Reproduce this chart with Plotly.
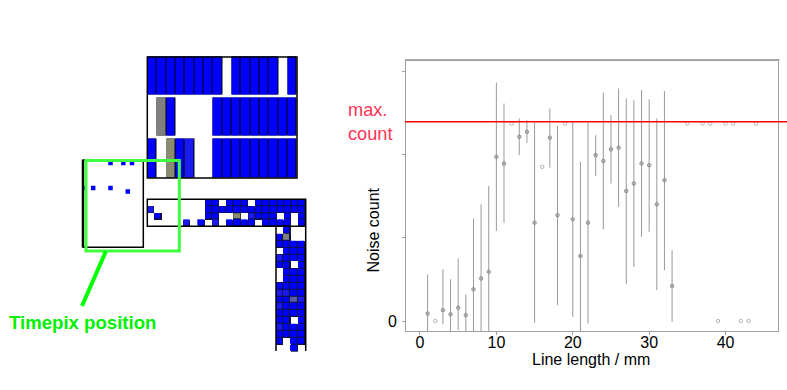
import plotly.graph_objects as go

# right plot: noise count against line length, y in counts
length_err = [1, 3, 4, 5, 6, 7, 8, 9, 10, 11, 13, 14, 15, 17, 18, 20, 21, 22, 23, 24, 25, 26, 27, 28, 29, 30, 31, 32, 33]
noise_err = [9, 13, 8, 16, 7, 38, 51, 59, 197, 189, 221, 227, 118, 220, 127, 122, 78, 118, 199, 192, 206, 208, 156, 165, 189, 187, 140, 169, 42]
err_up = [47, 49, 42, 59, 25, 85, 89, 103, 89, 72, 22, 14, 120, 35, 107, 117, 113, 120, 24, 82, 41, 71, 111, 100, 88, 79, 103, 107, 43]
err_down = [21, 17, 21, 27, 19, 50, 63, 71, 89, 71, 22, 13, 120, 36, 108, 117, 90, 121, 25, 82, 41, 71, 112, 100, 88, 80, 103, 108, 43]

length_flat = [2, 12, 16, 19, 35, 37, 38, 39, 40, 41, 42, 43, 44]
noise_flat = [0, 237, 185, 237, 237, 237, 237, 0, 237, 237, 0, 0, 237]

max_count = 239

# left drawing: hit maps of the three modules, one letter per chip
# B blue, f faded blue, g grey, o olive, h grey blue, . empty
top_module = [
    "BBBBBBBB.BBBBB.B",
    ".gB....BBBBBBBBB",
    "B.oBf..BBBBBBBBB",
]
side_module = [
    "........BB.BBB.BBBBBBB",
    "f.......BBBBBBBBBBBBBB",
    ".B......BB..o.fBBB.B.B",
    ".....f.B.f.BBBB.BBBB.B",
]
down_module = [
    ".B..", "Bg..", "BBBB", ".BBB", "fBBB", "BB.B", ".BBB", ".BBB", "BBBB",
    "ffBB", "BBhf", "fBBB", "BBBB", "BB.B", "fBBB", "BBBB", "B.BB", "..B.",
]

# single hits on the Timepix
hit_x = [110.5, 123.3, 132, 84.2, 93.2, 110.5, 127.8]
hit_y = [163, 163, 163, 188, 188, 188, 191.5]

W, H = 787, 390
PLOT_L, PLOT_R, PLOT_T, PLOT_B = 406, 777.5, 61, 331

LEVELS = {".": None, "B": 0, "f": 1, "o": 2, "g": 3, "h": 4}
CELL_SCALE = [
    [0.0, "#0000ff"], [0.25, "#1a1af0"], [0.5, "#8c8c70"], [0.75, "#808080"], [1.0, "#5a5aa8"],
]


def add_module(fig, rows, x0, dx, y0, dy, xgap, ygap, under, under_ygap):
    z = [[LEVELS[c] for c in row] for row in rows]
    mask = [[None if v is None else 1 for v in row] for row in z]
    base = dict(x0=x0 + dx / 2, dx=dx, y0=y0 + dy / 2, dy=dy, xaxis="x2", yaxis="y2",
                showscale=False, hoverinfo="skip")
    # dark under the cells so the gaps read as chip borders
    fig.add_trace(go.Heatmap(z=mask, colorscale=[[0, under], [1, under]], ygap=under_ygap, **base))
    fig.add_trace(go.Heatmap(z=z, zmin=0, zmax=4, colorscale=CELL_SCALE, xgap=xgap, ygap=ygap, **base))


fig = go.Figure()

fig.add_trace(go.Scatter(
    x=length_err, y=noise_err, mode="markers",
    marker=dict(size=3.5, color="rgba(150,150,150,0.5)", line=dict(color="#808080", width=0.8)),
    error_y=dict(type="data", symmetric=False, array=err_up, arrayminus=err_down,
                 color="#999999", thickness=1, width=0),
))
fig.add_trace(go.Scatter(
    x=length_flat, y=noise_flat, mode="markers",
    marker=dict(size=3.5, color="white", line=dict(color="#a0a0a0", width=0.8)),
))

add_module(fig, top_module, 147.5, 9.34, 55.5, 41.2, 1, 3, "black", 3)
add_module(fig, side_module, 147.3, 7.2, 199.3, 6.8, 1, 1, "#101040", 0)
add_module(fig, down_module, 276, 7.2, 226.7, 6.95, 1, 1, "#101040", 0)

fig.add_trace(go.Scatter(
    x=hit_x, y=hit_y, mode="markers", xaxis="x2", yaxis="y2",
    marker=dict(symbol="square", size=4.5, color="#0000ff"),
))


def box(x0, y0, x1, y1, color="black", width=1.5):
    return dict(type="rect", xref="x2", yref="y2", x0=x0, y0=y0, x1=x1, y1=y1,
                line=dict(color=color, width=width), layer="above")


def label(text, x, y, size, color="black", angle=0, anchor="center"):
    return dict(text=text, xref="x2", yref="y2", x=x, y=y, xanchor=anchor, yanchor="middle", align="left",
                showarrow=False, textangle=angle, borderpad=0, font=dict(size=size, color=color))


fig.update_layout(
    width=W, height=H, margin=dict(l=0, r=0, t=0, b=0),
    paper_bgcolor="white", plot_bgcolor="rgba(0,0,0,0)", showlegend=False,
    font=dict(family="Liberation Sans", color="black"),
    xaxis=dict(
        domain=[PLOT_L / W, PLOT_R / W], range=[-1.83, 46.8], tickvals=[0, 10, 20, 30, 40],
        showgrid=False, zeroline=False, showline=True, mirror=True, linecolor="#a0a0a0", linewidth=1,
        ticks="outside", ticklen=3, tickcolor="#a0a0a0", tickfont=dict(size=16), ticklabelstandoff=-6,
    ),
    yaxis=dict(
        domain=[1 - PLOT_B / H, 1 - PLOT_T / H], range=[-12, 312], tickvals=[0, 100, 200, 300],
        ticktext=["0", "", "", ""], showgrid=False, zeroline=False, showline=True, mirror=True,
        linecolor="#a0a0a0", linewidth=1, ticks="outside", ticklen=3, tickcolor="#a0a0a0",
        tickfont=dict(size=16), ticklabelstandoff=2,
    ),
    xaxis2=dict(domain=[0, 1], range=[0, W], visible=False, anchor="y2"),
    yaxis2=dict(domain=[0, 1], range=[H, 0], visible=False, anchor="x2"),
    shapes=[
        dict(type="line", xref="paper", yref="y", x0=405 / W, x1=787 / W, y0=max_count, y1=max_count,
             line=dict(color="#ff0000", width=1.5)),
        dict(type="line", xref="x2", yref="y2", x0=405, x1=780, y0=59.5, y1=59.5,
             line=dict(color="#aaaaaa", width=1)),
        box(147.3, 57, 297, 178),
        box(147.3, 199.3, 305.7, 226.3),
        dict(type="path", xref="x2", yref="y2", path="M 276 226.3 L 276 351 M 305.7 226.3 L 305.7 351",
             line=dict(color="black", width=1.5), layer="above"),
        box(83, 160, 143.3, 247.3),
        dict(type="line", xref="x2", yref="y2", x0=83, x1=83, y0=160, y1=247.3,
             line=dict(color="black", width=2.5), layer="above"),
        box(86, 160.5, 179.3, 251, color="#40ff40", width=3),
        dict(type="line", xref="x2", yref="y2", x0=106, x1=82, y0=251, y1=306,
             line=dict(color="#00ff00", width=4), layer="above"),
    ],
    annotations=[
        label("<b>Timepix position</b>", 8, 322, 18.6, "#00f000", anchor="left"),
        label("max.<br>count", 346.5, 122, 18.2, "#ff3355", anchor="left"),
        label("Noise count", 373, 230.5, 16, angle=-90),
        label("Line length / mm", 590.5, 359, 16),
    ],
)

# page margin off so the figure fills the window
fig.write_html("out.html", config={"displayModeBar": False}, post_script="document.body.style.margin='0';")
